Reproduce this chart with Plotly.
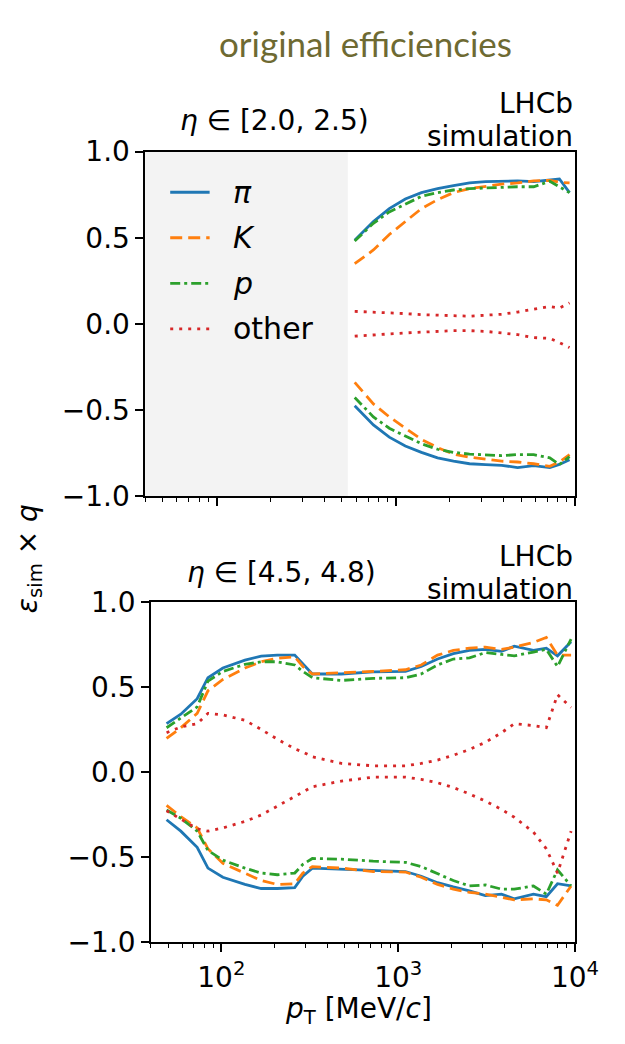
import math
import plotly.graph_objects as go

W, H = 625, 1044
FONT = 'DejaVu Sans, Arial, sans-serif'
TXT = 28

# ---- data: eta in [2.0, 2.5) (top panel) ----
PT_TOP = [590, 750, 920, 1130, 1390, 1710, 2100, 2580, 3170, 3900, 4780, 5880, 7230, 8180, 9320]
PI_TOP_POS = [0.485, 0.594, 0.669, 0.725, 0.762, 0.785, 0.803, 0.818, 0.826, 0.830, 0.830, 0.826, 0.833, 0.841, 0.762]
K_TOP_POS = [0.350, 0.429, 0.519, 0.594, 0.669, 0.721, 0.762, 0.785, 0.800, 0.811, 0.818, 0.830, 0.833, 0.822, 0.818]
P_TOP_POS = [0.481, 0.584, 0.650, 0.697, 0.740, 0.762, 0.777, 0.785, 0.790, 0.792, 0.796, 0.796, 0.828, 0.796, 0.762]
OTHER_TOP_POS = [0.073, 0.069, 0.066, 0.060, 0.054, 0.051, 0.045, 0.045, 0.051, 0.056, 0.069, 0.084, 0.101, 0.092, 0.122]
PI_TOP_NEG = [-0.474, -0.586, -0.657, -0.708, -0.745, -0.777, -0.796, -0.811, -0.816, -0.820, -0.833, -0.822, -0.833, -0.815, -0.788]
K_TOP_NEG = [-0.339, -0.464, -0.539, -0.605, -0.670, -0.717, -0.755, -0.773, -0.783, -0.796, -0.801, -0.811, -0.826, -0.801, -0.758]
P_TOP_NEG = [-0.427, -0.539, -0.605, -0.652, -0.695, -0.727, -0.745, -0.755, -0.760, -0.764, -0.758, -0.758, -0.777, -0.815, -0.770]
OTHER_TOP_NEG = [-0.071, -0.066, -0.058, -0.052, -0.047, -0.043, -0.039, -0.039, -0.043, -0.052, -0.062, -0.079, -0.084, -0.108, -0.137]

# ---- data: eta in [4.5, 4.8) (bottom panel) ----
PT_BOT = [49, 59, 73, 84, 102, 136, 168, 207, 260, 289, 327, 477, 722, 1100, 1350, 1670,
          2050, 2530, 3110, 3840, 4530, 5820, 6880, 7960, 9500]
PI_BOT_POS = [0.285, 0.341, 0.432, 0.556, 0.613, 0.660, 0.683, 0.689, 0.689, 0.635, 0.578, 0.578, 0.590,
              0.593, 0.622, 0.666, 0.698, 0.717, 0.723, 0.711, 0.742, 0.717, 0.730, 0.685, 0.768]
K_BOT_POS = [0.198, 0.261, 0.346, 0.479, 0.546, 0.613, 0.650, 0.670, 0.679, 0.622, 0.578, 0.584, 0.593,
             0.603, 0.631, 0.689, 0.717, 0.730, 0.736, 0.723, 0.736, 0.764, 0.793, 0.689, 0.689]
P_BOT_POS = [0.261, 0.318, 0.384, 0.536, 0.593, 0.635, 0.650, 0.650, 0.631, 0.593, 0.556, 0.540, 0.552,
             0.556, 0.578, 0.631, 0.666, 0.673, 0.704, 0.693, 0.685, 0.707, 0.723, 0.622, 0.784]
OTHER_BOT_POS = [0.232, 0.266, 0.285, 0.346, 0.337, 0.305, 0.251, 0.194, 0.137, 0.118, 0.090, 0.051, 0.037,
                 0.037, 0.051, 0.071, 0.099, 0.133, 0.175, 0.232, 0.285, 0.274, 0.261, 0.456, 0.380]
PI_BOT_NEG = [-0.281, -0.348, -0.443, -0.566, -0.620, -0.662, -0.686, -0.686, -0.681, -0.614, -0.566, -0.572, -0.582,
              -0.586, -0.614, -0.652, -0.677, -0.700, -0.728, -0.719, -0.747, -0.719, -0.734, -0.658, -0.671]
K_BOT_NEG = [-0.196, -0.262, -0.329, -0.452, -0.538, -0.595, -0.639, -0.662, -0.658, -0.595, -0.557, -0.566, -0.586,
             -0.589, -0.620, -0.662, -0.690, -0.709, -0.719, -0.738, -0.753, -0.747, -0.753, -0.785, -0.671]
P_BOT_NEG = [-0.224, -0.272, -0.348, -0.462, -0.519, -0.566, -0.595, -0.605, -0.595, -0.544, -0.509, -0.513, -0.525,
             -0.532, -0.557, -0.601, -0.639, -0.671, -0.665, -0.690, -0.690, -0.671, -0.719, -0.576, -0.671]
OTHER_BOT_NEG = [-0.228, -0.277, -0.334, -0.348, -0.329, -0.291, -0.253, -0.201, -0.144, -0.114, -0.087, -0.053, -0.030,
                 -0.030, -0.043, -0.063, -0.091, -0.129, -0.171, -0.220, -0.266, -0.354, -0.452, -0.595, -0.348]

SPECIES = ['pi', 'K', 'p', 'other']
LABELS = {'pi': '<i>π</i>', 'K': '<i>K</i>', 'p': '<i>p</i>', 'other': 'other'}
COLORS = {'pi': '#1f77b4', 'K': '#ff7f0e', 'p': '#2ca02c', 'other': '#d62728'}
DASHES = {'pi': 'solid', 'K': '12px,6px', 'p': '10px,4px,3px,4px', 'other': '3px,6px'}

TOP = {'pi': (PI_TOP_POS, PI_TOP_NEG), 'K': (K_TOP_POS, K_TOP_NEG),
       'p': (P_TOP_POS, P_TOP_NEG), 'other': (OTHER_TOP_POS, OTHER_TOP_NEG)}
BOT = {'pi': (PI_BOT_POS, PI_BOT_NEG), 'K': (K_BOT_POS, K_BOT_NEG),
       'p': (P_BOT_POS, P_BOT_NEG), 'other': (OTHER_BOT_POS, OTHER_BOT_NEG)}

EXCLUDED_PT = 540  # shaded region below this pT in the top panel
X_MIN, X_MAX = 40, 1e4


def px(x):
    return x / W


def py(y):
    return 1 - y / H


fig = go.Figure()
for xs, data, xa, ya in [(PT_TOP, TOP, 'x', 'y'), (PT_BOT, BOT, 'x2', 'y2')]:
    for sp in SPECIES:
        for vals in data[sp]:
            fig.add_trace(go.Scatter(x=xs, y=vals, mode='lines', xaxis=xa, yaxis=ya, showlegend=False,
                                     line=dict(color=COLORS[sp], width=2.8, dash=DASHES[sp])))

minor_vals = [m * 10 ** e for e in range(1, 4) for m in range(2, 10) if X_MIN <= m * 10 ** e <= X_MAX]
lo, hi = math.log10(X_MIN), math.log10(X_MAX)
common_x = dict(type='log', range=[lo, hi], showline=True, mirror=True, linecolor='black', linewidth=1.5,
                showgrid=False, zeroline=False, ticks='outside', ticklen=8, tickwidth=1.5, tickcolor='black',
                tickvals=[100, 1000, 10000], ticktext=['10<sup>2</sup>', '10<sup>3</sup>', '10<sup>4</sup>'],
                tickfont=dict(family=FONT, size=TXT, color='black'),
                minor=dict(tickvals=minor_vals, ticks='outside', ticklen=4, tickwidth=1.2, tickcolor='black',
                           showgrid=False))
common_y = dict(range=[-1, 1], showline=True, mirror=True, linecolor='black', linewidth=1.5, showgrid=False,
                zeroline=False, ticks='outside', ticklen=8, tickwidth=1.5, tickcolor='black',
                tickvals=[-1, -0.5, 0, 0.5, 1], tickformat='.1f', ticklabelstandoff=0,
                tickfont=dict(family=FONT, size=TXT, color='black'))

fig.update_layout(
    width=W, height=H, margin=dict(l=0, r=0, t=0, b=0),
    paper_bgcolor='white', plot_bgcolor='white', showlegend=False,
    xaxis=dict(common_x, domain=[px(151), px(598)], anchor='y', showticklabels=False),
    yaxis=dict(common_y, domain=[py(496), py(140)], anchor='x'),
    xaxis2=dict(common_x, domain=[px(157), px(598)], anchor='y2', ticklabelstandoff=2),
    yaxis2=dict(common_y, domain=[py(956), py(605.5)], anchor='x2'),
)

# shaded (excluded) region in the top panel
frac = (math.log10(EXCLUDED_PT) - lo) / (hi - lo)
fig.add_shape(type='rect', xref='x domain', yref='y domain', x0=0, x1=frac, y0=0, y1=1,
              fillcolor='#f3f3f3', line=dict(width=0), layer='below')

# legend (top panel)
for i, sp in enumerate(SPECIES):
    yy = py(182 + 47 * i)
    fig.add_shape(type='line', xref='paper', yref='paper', x0=px(177), x1=px(218), y0=yy, y1=yy,
                  line=dict(color=COLORS[sp], width=2.8, dash=DASHES[sp]))
    fig.add_annotation(xref='paper', yref='paper', x=px(240), y=yy, text=LABELS[sp], showarrow=False,
                       xanchor='left', yanchor='middle', font=dict(family=FONT, size=30, color='black'))


def label(x, y, text, size=TXT, anchor='left', **kw):
    fig.add_annotation(xref='paper', yref='paper', x=px(x), y=py(y), text=text, showarrow=False,
                       xanchor=anchor, yanchor='middle', font=dict(family=FONT, size=size, color='black'), **kw)


label(185, 108, '<i>η</i> ∈ [2.0, 2.5)')
label(598, 90, 'LHCb', anchor='right')
label(598, 124, 'simulation', anchor='right')
label(192, 575, '<i>η</i> ∈ [4.5, 4.8)')
label(598, 558, 'LHCb', anchor='right')
label(598, 592, 'simulation', anchor='right')
label(30, 560, '<i>ε</i><sub>sim</sub> × <i>q</i>', anchor='center', textangle=-90)
label(373, 1027, '<i>p</i><sub>T</sub> [MeV/<i>c</i>]', anchor='center')

fig.add_annotation(xref='paper', yref='paper', x=px(380), y=py(28), text='original efficiencies', showarrow=False,
                   xanchor='center', yanchor='middle', font=dict(family='Lato, Open Sans, sans-serif', size=35,
                                                                 color='#6e6a32'))

# keep the figure flush with the top-left corner of the window
PIN = ("var gd = document.getElementById('{plot_id}');"
       "document.body.style.margin = '0px';"
       "document.documentElement.style.overflow = 'hidden';"
       "gd.style.position = 'fixed'; gd.style.left = '0px'; gd.style.top = '0px';")

fig.write_html('out.html', config={'displayModeBar': False}, post_script=PIN)
